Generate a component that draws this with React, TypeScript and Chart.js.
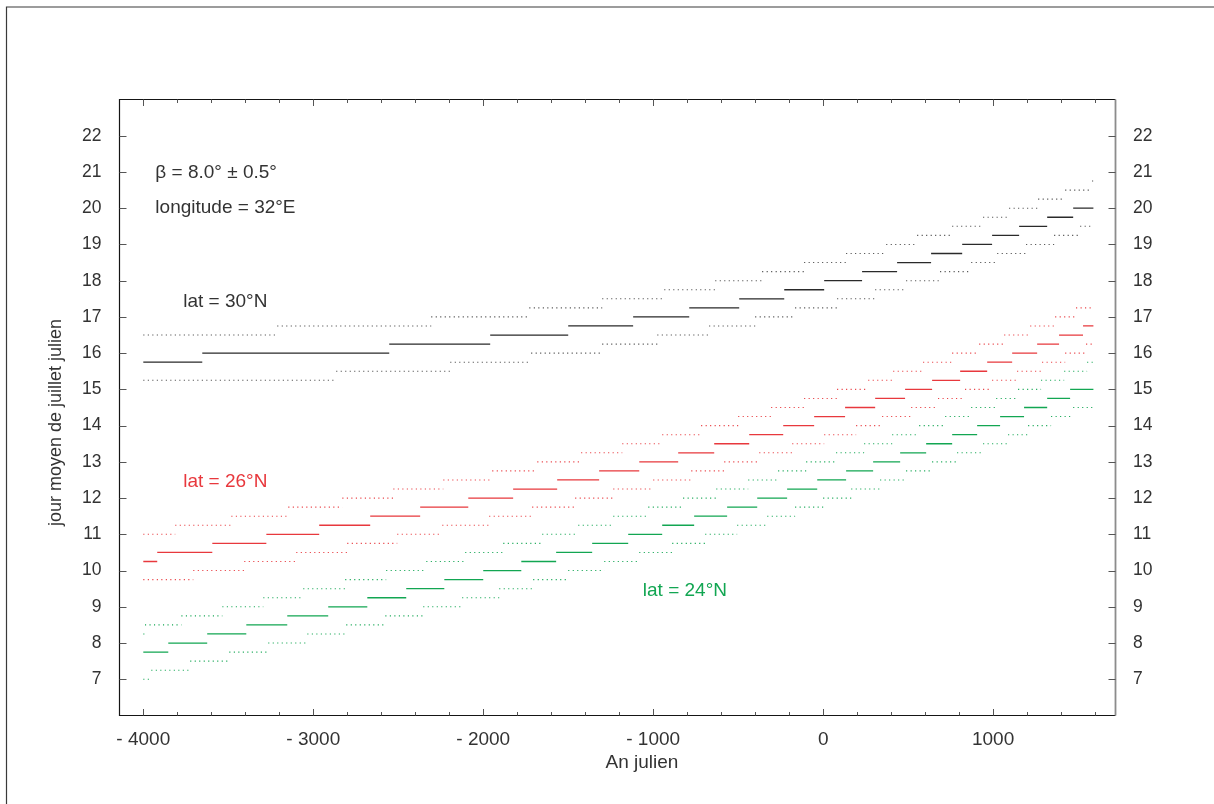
import React, { useEffect, useRef } from "react";
import { Chart, registerables } from "chart.js";

Chart.register(...registerables);

// ---------- tick labels ----------
const X_TICKS = [-4000, -3000, -2000, -1000, 0, 1000];
const Y_TICKS = [7, 8, 9, 10, 11, 12, 13, 14, 15, 16, 17, 18, 19, 20, 21, 22];

// ---------- lat = 30°N ----------
const LAT30_MID_BREAKS = [-4000, -3653, -2553, -1959, -1500, -1118, -788, -494, -229, 6, 229, 435, 635, 818, 994, 1153, 1318, 1471, 1590];
const LAT30_MID_LEVELS = [15.75, 16.0, 16.25, 16.5, 16.75, 17.0, 17.25, 17.5, 17.75, 18.0, 18.25, 18.5, 18.75, 19.0, 19.25, 19.5, 19.75, 20.0];
const LAT30_HI_BREAKS = [-4000, -3212, -2306, -1729, -1300, -935, -635, -359, -112, 135, 371, 553, 759, 941, 1094, 1265, 1424, 1582, 1590];
const LAT30_HI_LEVELS = [16.5, 16.75, 17.0, 17.25, 17.5, 17.75, 18.0, 18.25, 18.5, 18.75, 19.0, 19.25, 19.5, 19.75, 20.0, 20.25, 20.5, 20.75];
const LAT30_LO_BREAKS = [-4000, -2865, -2194, -1718, -1300, -976, -671, -400, -165, 82, 306, 488, 688, 871, 1024, 1194, 1359, 1512, 1590];
const LAT30_LO_LEVELS = [15.25, 15.5, 15.75, 16.0, 16.25, 16.5, 16.75, 17.0, 17.25, 17.5, 17.75, 18.0, 18.25, 18.5, 18.75, 19.0, 19.25, 19.5];

// ---------- lat = 26°N ----------
const LAT26_MID_BREAKS = [-4000, -3918, -3594, -3276, -2965, -2665, -2371, -2088, -1824, -1565, -1318, -1082, -853, -641, -435, -235, -53, 129, 306, 482, 641, 806, 965, 1112, 1259, 1388, 1529, 1590];
const LAT26_MID_LEVELS = [10.25, 10.5, 10.75, 11.0, 11.25, 11.5, 11.75, 12.0, 12.25, 12.5, 12.75, 13.0, 13.25, 13.5, 13.75, 14.0, 14.25, 14.5, 14.75, 15.0, 15.25, 15.5, 15.75, 16.0, 16.25, 16.5, 16.75];
const LAT26_HI_BREAKS = [-4000, -3812, -3482, -3147, -2829, -2529, -2235, -1947, -1682, -1424, -1182, -947, -718, -500, -306, -112, 82, 265, 412, 588, 759, 918, 1065, 1218, 1365, 1488, 1590];
const LAT26_HI_LEVELS = [11.0, 11.25, 11.5, 11.75, 12.0, 12.25, 12.5, 12.75, 13.0, 13.25, 13.5, 13.75, 14.0, 14.25, 14.5, 14.75, 15.0, 15.25, 15.5, 15.75, 16.0, 16.25, 16.5, 16.75, 17.0, 17.25];
const LAT26_LO_BREAKS = [-4000, -3706, -3406, -3100, -2800, -2506, -2241, -1965, -1712, -1459, -1235, -1000, -776, -582, -376, -182, 6, 194, 347, 518, 676, 835, 994, 1141, 1288, 1424, 1547, 1590];
const LAT26_LO_LEVELS = [9.75, 10.0, 10.25, 10.5, 10.75, 11.0, 11.25, 11.5, 11.75, 12.0, 12.25, 12.5, 12.75, 13.0, 13.25, 13.5, 13.75, 14.0, 14.25, 14.5, 14.75, 15.0, 15.25, 15.5, 15.75, 16.0, 16.25];

// ---------- lat = 24°N ----------
const LAT24_MID_BREAKS = [-4000, -3853, -3624, -3394, -3153, -2912, -2682, -2453, -2229, -2000, -1776, -1571, -1359, -1147, -947, -759, -565, -388, -212, -35, 135, 294, 453, 606, 759, 906, 1041, 1182, 1318, 1453, 1590];
const LAT24_MID_LEVELS = [7.75, 8.0, 8.25, 8.5, 8.75, 9.0, 9.25, 9.5, 9.75, 10.0, 10.25, 10.5, 10.75, 11.0, 11.25, 11.5, 11.75, 12.0, 12.25, 12.5, 12.75, 13.0, 13.25, 13.5, 13.75, 14.0, 14.25, 14.5, 14.75, 15.0];
const LAT24_HI_BREAKS = [-4000, -3990, -3776, -3535, -3294, -3059, -2812, -2571, -2335, -2106, -1882, -1653, -1441, -1235, -1029, -824, -629, -441, -265, -100, 76, 241, 406, 565, 718, 871, 1018, 1147, 1282, 1418, 1553, 1590];
const LAT24_HI_LEVELS = [8.25, 8.5, 8.75, 9.0, 9.25, 9.5, 9.75, 10.0, 10.25, 10.5, 10.75, 11.0, 11.25, 11.5, 11.75, 12.0, 12.25, 12.5, 12.75, 13.0, 13.25, 13.5, 13.75, 14.0, 14.25, 14.5, 14.75, 15.0, 15.25, 15.5, 15.75];
const LAT24_LO_BREAKS = [-4000, -3953, -3724, -3494, -3265, -3035, -2806, -2576, -2353, -2124, -1906, -1706, -1500, -1288, -1082, -888, -694, -506, -329, -165, 0, 165, 335, 488, 641, 788, 941, 1088, 1206, 1341, 1471, 1590];
const LAT24_LO_LEVELS = [7.0, 7.25, 7.5, 7.75, 8.0, 8.25, 8.5, 8.75, 9.0, 9.25, 9.5, 9.75, 10.0, 10.25, 10.5, 10.75, 11.0, 11.25, 11.5, 11.75, 12.0, 12.25, 12.5, 12.75, 13.0, 13.25, 13.5, 13.75, 14.0, 14.25, 14.5];

// ---------- styles ----------
const BLACK = "#2a2a2a";
const BLACK_DOT = "#4a4a4a";
const RED = "#e8383d";
const GREEN = "#12a652";
const TEXT = "#333333";
const FONT = "'Liberation Sans', Arial, Helvetica, sans-serif";

// annotations, positioned in data coordinates (year, day)
const NOTES = [
  { text: "\u03b2 = 8.0\u00b0 \u00b1 0.5\u00b0", x: -3929, y: 20.83, color: TEXT },
  { text: "longitude = 32\u00b0E", x: -3929, y: 19.86, color: TEXT },
  { text: "lat = 30\u00b0N", x: -3765, y: 17.28, color: TEXT },
  { text: "lat = 26\u00b0N", x: -3765, y: 12.31, color: RED },
  { text: "lat = 24\u00b0N", x: -1061, y: 9.29, color: GREEN },
];

function steps(breaks: number[], levels: number[]) {
  const pts: { x: number; y: number | null }[] = [];
  for (let i = 0; i < levels.length; i++) {
    pts.push({ x: breaks[i], y: levels[i] });
    pts.push({ x: breaks[i + 1], y: levels[i] });
    pts.push({ x: breaks[i + 1], y: null });
  }
  return pts;
}

function ds(label: string, breaks: number[], levels: number[], color: string, dotted: boolean) {
  return {
    label,
    data: steps(breaks, levels),
    borderColor: color,
    borderWidth: dotted ? 1.1 : 1.3,
    borderDash: dotted ? [1.1, 3.4] : [],
    borderCapStyle: "butt" as const,
    pointRadius: 0,
    spanGaps: false,
    tension: 0,
    fill: false,
  };
}

const decorPlugin = {
  id: "decor",
  afterDraw(chart: any) {
    const { ctx, chartArea: a, scales } = chart;
    const xs = scales.x;
    const ys = scales.y;
    ctx.save();
    // outer frame (top and left)
    ctx.strokeStyle = "#3a3a3a";
    ctx.lineWidth = 1.2;
    ctx.beginPath();
    ctx.moveTo(6.5, 804);
    ctx.lineTo(6.5, 7);
    ctx.lineTo(1214, 7);
    ctx.stroke();

    // plot box
    ctx.strokeStyle = "#151515";
    ctx.lineWidth = 1.2;
    ctx.beginPath();
    ctx.moveTo(a.right, a.top);
    ctx.lineTo(a.left, a.top);
    ctx.lineTo(a.left, a.bottom);
    ctx.lineTo(a.right, a.bottom);
    ctx.stroke();
    ctx.strokeStyle = "#8c8c8c";
    ctx.lineWidth = 1.8;
    ctx.beginPath();
    ctx.moveTo(a.right, a.top);
    ctx.lineTo(a.right, a.bottom);
    ctx.stroke();

    // x ticks (inward, top and bottom)
    ctx.strokeStyle = "#555";
    ctx.lineWidth = 1;
    for (let v = -4000; v <= 1600; v += 200) {
      const px = Math.round(xs.getPixelForValue(v)) + 0.5;
      const len = v % 1000 === 0 ? 6.5 : 3.5;
      ctx.beginPath();
      ctx.moveTo(px, a.bottom);
      ctx.lineTo(px, a.bottom - len);
      ctx.moveTo(px, a.top);
      ctx.lineTo(px, a.top + len);
      ctx.stroke();
    }
    // y ticks (inward, left and right)
    for (const v of Y_TICKS) {
      const py = Math.round(ys.getPixelForValue(v)) + 0.5;
      ctx.beginPath();
      ctx.moveTo(a.left, py);
      ctx.lineTo(a.left + 7, py);
      ctx.moveTo(a.right, py);
      ctx.lineTo(a.right - 7, py);
      ctx.stroke();
    }

    // annotations
    ctx.font = `19px ${FONT}`;
    ctx.textAlign = "left";
    ctx.textBaseline = "alphabetic";
    for (const n of NOTES) {
      ctx.fillStyle = n.color;
      ctx.fillText(n.text, xs.getPixelForValue(n.x), ys.getPixelForValue(n.y));
    }

    // axis titles
    ctx.fillStyle = TEXT;
    ctx.font = `19px ${FONT}`;
    ctx.textAlign = "center";
    ctx.textBaseline = "middle";
    ctx.fillText("An julien", 642, 763);
    ctx.font = `18px ${FONT}`;
    ctx.translate(56, 422.5);
    ctx.rotate(-Math.PI / 2);
    ctx.fillText("jour moyen de juillet julien", 0, 0);
    ctx.restore();
  },
};

function fmtX(v: number) {
  return v < 0 ? "- " + Math.abs(v) : String(v);
}

export default function App() {
  const ref = useRef<HTMLCanvasElement | null>(null);
  useEffect(() => {
    if (!ref.current) return;
    const chart = new Chart(ref.current, {
      type: "line",
      data: {
        datasets: [
          ds("30 hi", LAT30_HI_BREAKS, LAT30_HI_LEVELS, BLACK_DOT, true),
          ds("30 lo", LAT30_LO_BREAKS, LAT30_LO_LEVELS, BLACK_DOT, true),
          ds("30", LAT30_MID_BREAKS, LAT30_MID_LEVELS, BLACK, false),
          ds("26 hi", LAT26_HI_BREAKS, LAT26_HI_LEVELS, RED, true),
          ds("26 lo", LAT26_LO_BREAKS, LAT26_LO_LEVELS, RED, true),
          ds("26", LAT26_MID_BREAKS, LAT26_MID_LEVELS, RED, false),
          ds("24 hi", LAT24_HI_BREAKS, LAT24_HI_LEVELS, GREEN, true),
          ds("24 lo", LAT24_LO_BREAKS, LAT24_LO_LEVELS, GREEN, true),
          ds("24", LAT24_MID_BREAKS, LAT24_MID_LEVELS, GREEN, false),
        ] as any,
      },
      options: {
        responsive: false,
        animation: false,
        events: [],
        layout: { padding: { top: 99.5, left: 0, right: 0, bottom: 0 } },
        plugins: { legend: { display: false }, tooltip: { enabled: false } },
        scales: {
          x: {
            type: "linear",
            position: "bottom",
            min: -4140,
            max: 1720,
            grid: { display: false, drawTicks: false, tickLength: 0 },
            border: { display: false },
            afterBuildTicks: (s: any) => {
              s.ticks = X_TICKS.map((v) => ({ value: v }));
            },
            afterFit: (s: any) => {
              s.height = 88.5;
            },
            ticks: {
              padding: 13,
              color: TEXT,
              maxRotation: 0,
              autoSkip: false,
              font: { family: FONT, size: 19 },
              callback: (v: any) => fmtX(Number(v)),
            },
          },
          y: {
            type: "linear",
            position: "left",
            min: 6,
            max: 23,
            grid: { display: false, drawTicks: false, tickLength: 0 },
            border: { display: false },
            afterBuildTicks: (s: any) => {
              s.ticks = Y_TICKS.map((v) => ({ value: v }));
            },
            afterFit: (s: any) => {
              s.width = 119.5;
            },
            ticks: {
              padding: 18,
              color: TEXT,
              autoSkip: false,
              font: { family: FONT, size: 17.5 },
            },
          },
          y2: {
            type: "linear",
            position: "right",
            min: 6,
            max: 23,
            grid: { display: false, drawTicks: false, tickLength: 0 },
            border: { display: false },
            afterBuildTicks: (s: any) => {
              s.ticks = Y_TICKS.map((v) => ({ value: v }));
            },
            afterFit: (s: any) => {
              s.width = 98.5;
            },
            ticks: {
              padding: 17.5,
              color: TEXT,
              autoSkip: false,
              font: { family: FONT, size: 17.5 },
            },
          },
        },
      },
      plugins: [decorPlugin],
    });
    return () => chart.destroy();
  }, []);

  return (
    <div style={{ position: "absolute", left: 0, top: 0, width: 1214, height: 804, background: "#fff" }}>
      <canvas ref={ref} width={1214} height={804} style={{ width: 1214, height: 804, display: "block" }} />
    </div>
  );
}
